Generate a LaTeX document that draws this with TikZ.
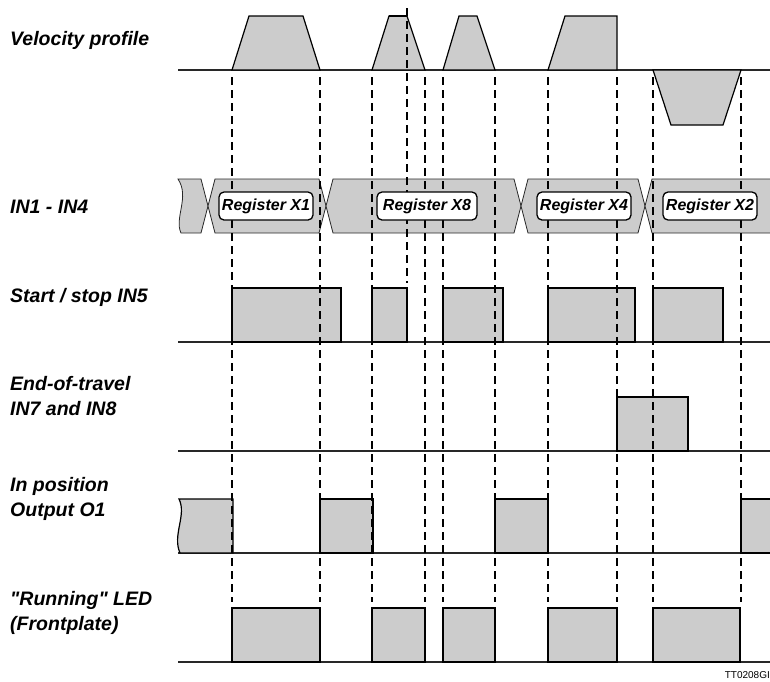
\documentclass[tikz,border=0pt]{standalone}
\usepackage{fontspec}
\setmainfont{Liberation Sans}[Ligatures=TeXOff]
\usepackage{xcolor}
\usepackage{tikz}
\usetikzlibrary{positioning}
\definecolor{pulsegray}{RGB}{204, 204, 204}
\definecolor{edgegray}{RGB}{40, 40, 40}

\tikzset{
    sigline/.style={draw=edgegray, line width=1.3pt},
    pulse/.style={fill=pulsegray, draw=black, line width=1.2pt},
    busseg/.style={fill=pulsegray, draw=edgegray, line width=0.8pt},
    timing/.style={draw=black, line width=1.9pt, dash pattern=on 8pt off 5pt},
    siglabel/.style={anchor=west, align=left, inner sep=0pt, font=\fontsize{19.5}{25}\selectfont\bfseries\itshape},
    regbox/.style={draw, fill=white, rounded corners=5pt, line width=1.3pt, minimum width=94pt, minimum height=28pt, inner sep=1pt, font=\fontsize{16}{18}\selectfont\bfseries\itshape}
}

\begin{document}
\begin{tikzpicture}[x=1pt, y=-1pt]
    \path[use as bounding box] (0,0) rectangle (770,681);
    \clip (0,0) rectangle (770,681);

    % Signal names
    \node[siglabel] (velo) at (10,40) {Velocity profile};
    \node[siglabel] (inputs) at (10,207) {IN1 - IN4};
    \node[siglabel] (startstop) at (10,297) {Start / stop IN5};
    \node[siglabel] (endtravel) at (10,396) {End-of-travel\\IN7 and IN8};
    \node[siglabel] (inpos) at (10,499) {In position\\Output O1};
    \node[siglabel] (running) at (10,613) {"Running" LED\\(Frontplate)};

    % Velocity profile
    \draw[sigline] (178,70) -- (770,70);
    \draw[pulse] (232,70) -- (249,16) -- (303,16) -- (320,70) -- cycle;
    \draw[pulse] (372,70) -- (389,16) -- (407,16) -- (425,70) -- cycle;
    \draw[line width=2pt] (389,16) -- (407,16);
    \draw[pulse] (443,70) -- (459,16) -- (477,16) -- (495,70) -- cycle;
    \draw[pulse] (548,70) -- (565,16) -- (617,16) -- (617,70) -- cycle;
    \draw[pulse] (653,70) -- (671,125) -- (723,125) -- (741,70) -- cycle;

    % IN1 - IN4 bus
    \draw[busseg] (178,179) .. controls (190,197) and (174,218) .. (181,233)
        -- (201,233) -- (208,206) -- (201,179) -- cycle;
    \foreach \xl/\xr in {208/326, 326/521, 521/645, 645/800}
        \draw[busseg] (\xl,206) -- (\xl+7,179) -- (\xr-7,179) -- (\xr,206)
            -- (\xr-7,233) -- (\xl+7,233) -- cycle;

    % Start / stop IN5
    \draw[sigline] (178,342) -- (770,342);
    \foreach \a/\b in {232/341, 372/407, 443/503, 548/635, 653/723}
        \draw[pulse] (\a,342) rectangle (\b,288);

    % End-of-travel IN7 and IN8
    \draw[sigline] (178,451) -- (770,451);
    \draw[pulse] (617,451) rectangle (688,397);

    % In position output O1
    \draw[sigline] (178,553) -- (770,553);
    \draw[pulse] (179,499) .. controls (187,515) and (172,535) .. (180,553)
        -- (233,553) -- (233,499) -- cycle;
    \foreach \a/\b in {320/373, 495/548}
        \draw[pulse] (\a,553) rectangle (\b,499);
    \draw[pulse] (790,553) -- (741,553) -- (741,499) -- (790,499);

    % Running LED
    \draw[sigline] (178,662) -- (770,662);
    \foreach \a/\b in {232/320, 372/425, 443/495, 548/617, 653/740}
        \draw[pulse] (\a,662) rectangle (\b,608);

    % Timing marks
    \foreach \x in {232, 320, 372, 425, 443, 495, 548, 617, 653, 741}
        \draw[timing] (\x,77) -- (\x,602);
    \draw[timing] (407,8) -- (407,283);

    % Registers
    \node[regbox] (regXone) at (266,206) {Register X1};
    \node[regbox, minimum width=100pt] (regXeight) at (427,206) {Register X8};
    \node[regbox] (regXfour) at (584,206) {Register X4};
    \node[regbox] (regXtwo) at (710,206) {Register X2};

    % Figure tag
    \node[anchor=east, inner sep=0pt, font=\fontsize{10}{12}\selectfont] (figtag) at (770,675) {TT0208GI};
\end{tikzpicture}
\end{document}
